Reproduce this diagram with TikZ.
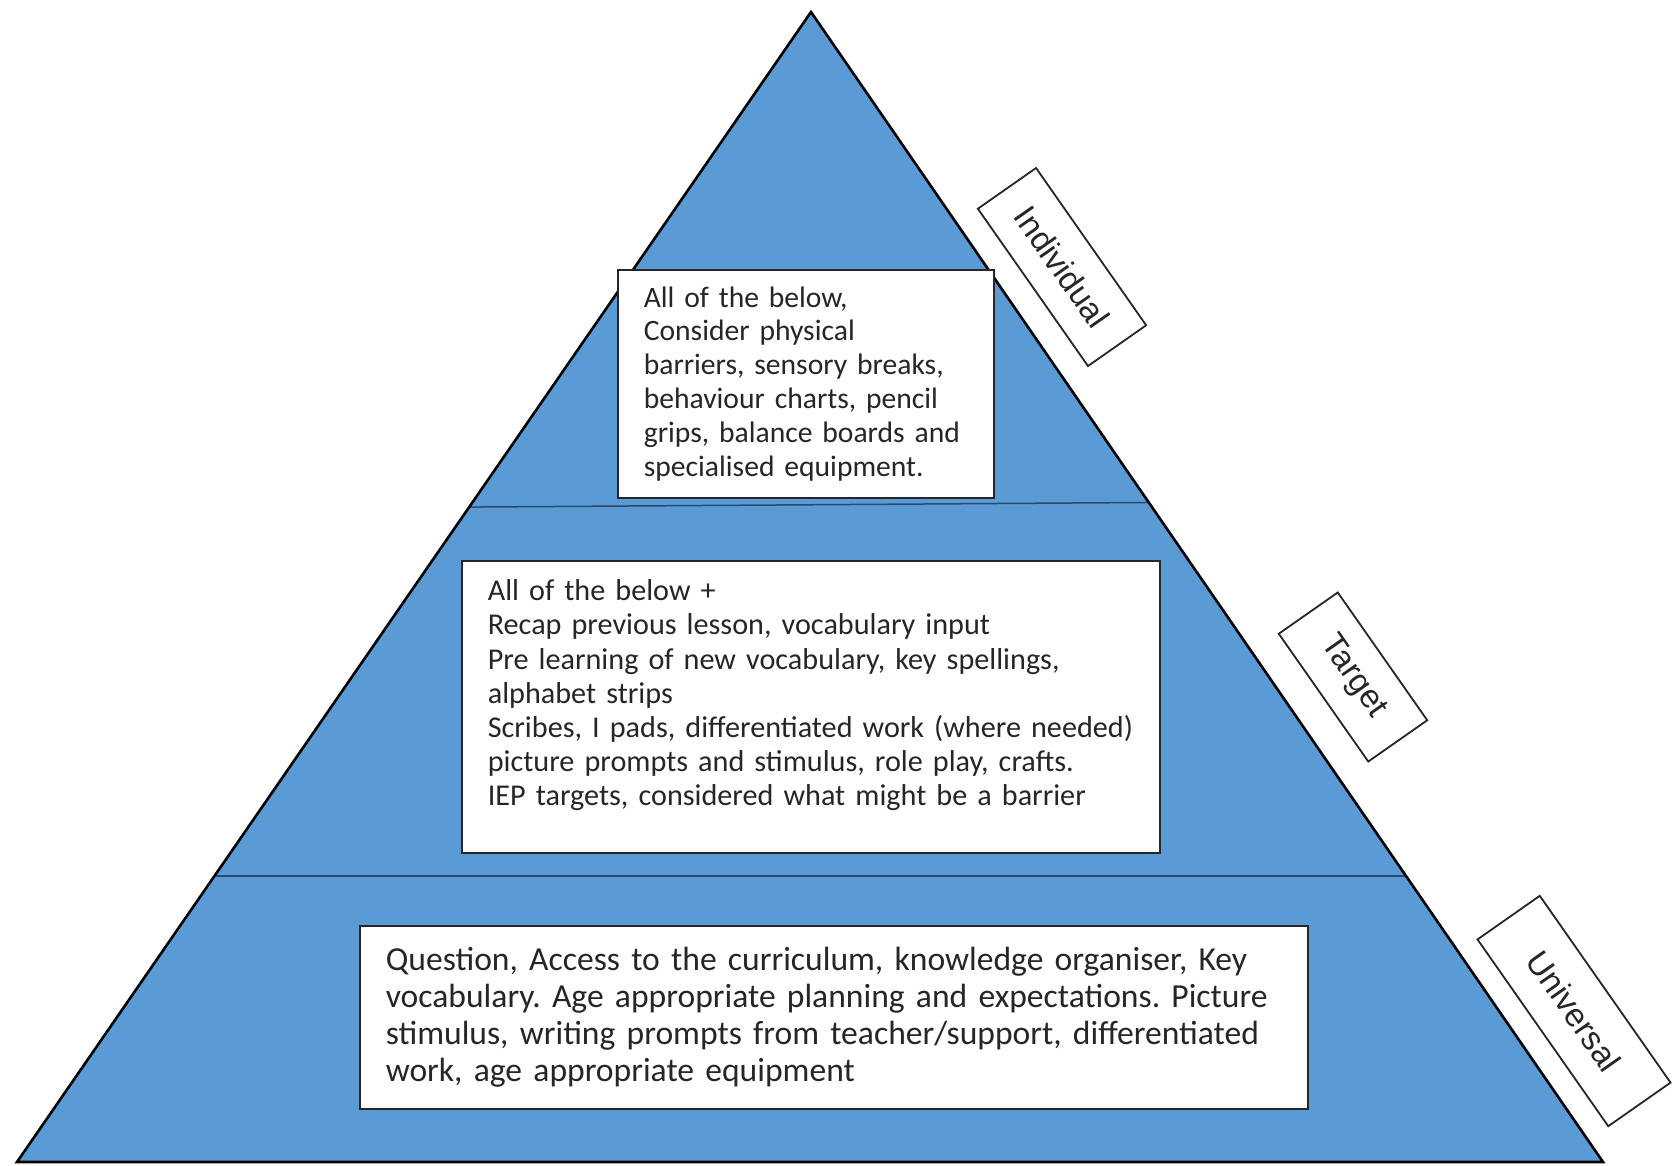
\documentclass[tikz,border=0pt]{standalone}
\usepackage{fontspec}
\setmainfont{Carlito}
\newfontfamily\labelfont{Liberation Sans}
\usetikzlibrary{calc}
\definecolor{pyrblue}{HTML}{5B9BD5}
\definecolor{pyrline}{HTML}{2C4A6E}
\definecolor{txtgray}{HTML}{262626}
\frenchspacing

\begin{document}
\begin{tikzpicture}[x=1pt, y=-1pt,
    tierbox/.style={draw=black!85, line width=1.6pt, fill=white, text=txtgray,
      align=left, anchor=north west, inner xsep=26pt, inner ysep=0pt},
    tierlabel/.style={draw=black!85, line width=1.8pt, fill=white, rotate=-55,
      text=txtgray, font=\labelfont\fontsize{33}{40}\selectfont}]
    \useasboundingbox (0, 0) rectangle (1675, 1165);

    \coordinate (apex) at (811, 12);
    \coordinate (bl) at (17, 1162);
    \coordinate (br) at (1603, 1162);
    \coordinate (upl) at ($(apex)!0.4305!(bl)$);
    \coordinate (upr) at ($(apex)!0.4265!(br)$);
    \coordinate (lowl) at ($(apex)!0.7513!(bl)$);
    \coordinate (lowr) at ($(apex)!0.7513!(br)$);

    \fill[pyrblue] (apex) -- (bl) -- (br) -- cycle;
    \draw[pyrline, line width=1.5pt] (upl) -- (upr);
    \draw[pyrline, line width=1.5pt] (lowl) -- (lowr);
    \draw[line width=2.6pt, line join=miter] (apex) -- (bl) -- (br) -- cycle;

    \node[tierbox, text width=324pt, minimum height=228pt,
      font=\fontsize{29.6}{33.8}\selectfont] (indbox) at (617, 269)
      {All of the below,\\
       Consider physical\\
       barriers, sensory breaks,\\
       behaviour charts, pencil\\
       grips, balance boards and\\
       specialised equipment.};
    \node[tierbox, text width=646pt, minimum height=292pt,
      font=\fontsize{30.2}{34.2}\selectfont] (tarbox) at (461, 560)
      {All of the below +\\
       Recap previous lesson, vocabulary input\\
       Pre learning of new vocabulary, key spellings,\\
       alphabet strips\\
       Scribes, I pads, differentiated work (where needed)\\
       picture prompts and stimulus, role play, crafts.\\
       IEP targets, considered what might be a barrier\rule[-28pt]{0pt}{1pt}};
    \node[tierbox, text width=896pt, minimum height=183pt,
      font=\fontsize{33.6}{37}\selectfont] (unibox) at (359, 925)
      {Question, Access to the curriculum, knowledge organiser, Key\\
       vocabulary. Age appropriate planning and expectations. Picture\\
       stimulus, writing prompts from teacher/support, differentiated\\
       work, age appropriate equipment};

    \node[tierlabel, minimum width=192pt, minimum height=71pt] (indlabel) at (1062, 267) {Individual};
    \node[tierlabel, minimum width=156pt, minimum height=72pt] (tarlabel) at (1353, 677) {Target};
    \node[tierlabel, minimum width=228pt, minimum height=76pt] (unilabel) at (1574, 1011) {Universal};
\end{tikzpicture}
\end{document}
